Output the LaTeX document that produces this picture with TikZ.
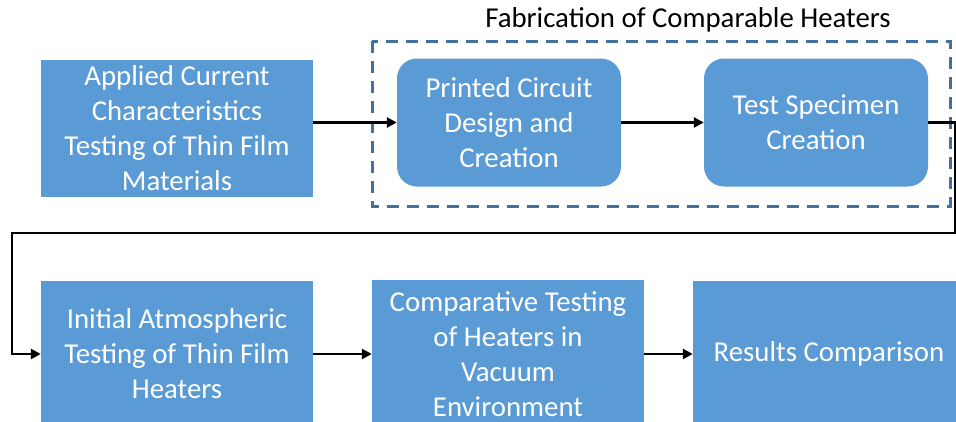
\documentclass[tikz,border=0pt]{standalone}
\usepackage{fontspec}
\setmainfont{Carlito}
\usetikzlibrary{arrows.meta}
\definecolor{boxblue}{HTML}{5B9BD5}
\definecolor{dashblue}{HTML}{41719C}
\begin{document}
\begin{tikzpicture}[x=1pt,y=-1pt,
  box/.style={fill=boxblue, text=white, align=center, inner sep=0pt,
    font=\fontsize{28.8}{35}\selectfont},
  rbox/.style={box, rounded corners=20pt},
  arr/.style={draw=black, line width=2.8pt, -{Triangle[length=10pt,width=10pt]}},
  group/.style={draw=dashblue, line width=3pt, dash pattern=on 12pt off 8pt},
  title/.style={font=\fontsize{28.8}{35}\selectfont, text=black, inner sep=0pt}]
\useasboundingbox (0,0) rectangle (956,421);
\clip (0,0) rectangle (956,421);
% group frame
\draw[group] (372,41) rectangle (950,206);
\node[title] (T) at (688,20) {Fabrication of Comparable Heaters};
% top row
\node[box, minimum width=272pt, minimum height=137pt] (A) at (177,128.5)
  {Applied Current\\Characteristics\\Testing of Thin Film\\Materials};
\node[rbox, minimum width=224pt, minimum height=128pt] (B) at (509,122.5)
  {Printed Circuit\\Design and\\Creation};
\node[rbox, minimum width=224pt, minimum height=128pt] (C) at (816,122.5)
  {Test Specimen\\Creation};
% bottom row
\node[box, minimum width=272pt, minimum height=146pt] (D) at (177,354)
  {Initial Atmospheric\\Testing of Thin Film\\Heaters};
\node[box, minimum width=272pt, minimum height=148pt] (E) at (508,354)
  {Comparative Testing\\of Heaters in\\Vacuum\\Environment};
\node[box, minimum width=272pt, minimum height=146pt] (F) at (829,354)
  {Results Comparison};
% connectors
\coordinate (k1) at (955,233);
\coordinate (k2) at (12,233);
\draw[arr] (A.east |- B.west) -- (B.west);
\draw[arr] (B.east) -- (C.west);
\draw[arr] (C.east) -| (k1) -- (k2) |- (D.west);
\draw[arr] (D.east) -- (E.west);
\draw[arr] (E.east) -- (F.west);
\end{tikzpicture}
\end{document}
